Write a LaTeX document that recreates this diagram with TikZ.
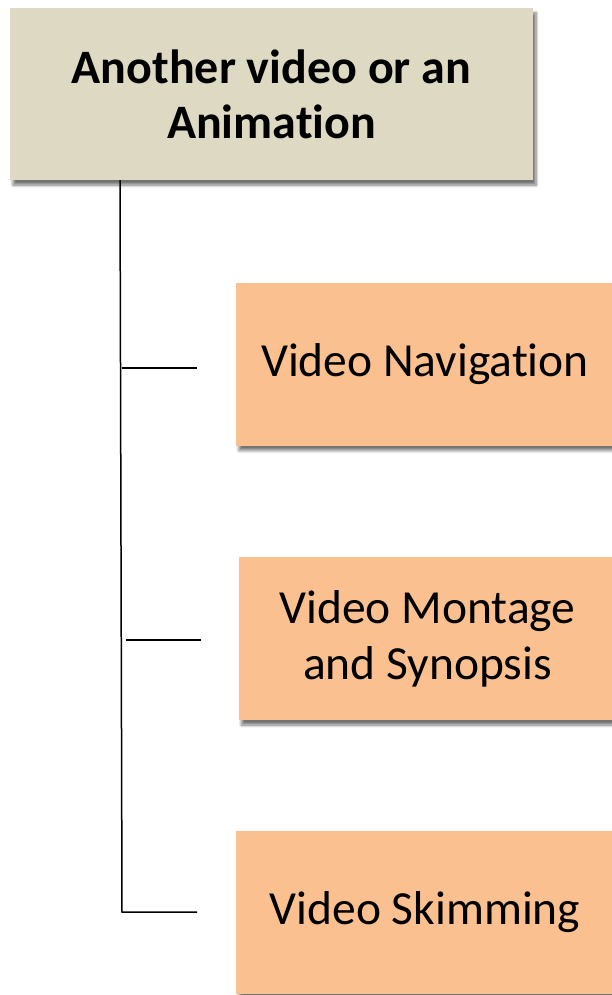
\documentclass[tikz,border=0pt]{standalone}
\usepackage{fontspec}
\setmainfont{Carlito}
\usetikzlibrary{shadows.blur}
\definecolor{headfill}{HTML}{DDD9C3}
\definecolor{itemfill}{HTML}{FAC090}
% break the t-i ligature of the font
\newcommand{\tisplit}{t\kern0pt i}
\tikzset{
  x=1pt, y=-1pt,
  boxshadow/.style={blur shadow={shadow xshift=3pt, shadow yshift=-5pt,
      shadow blur steps=6, shadow blur radius=3pt, shadow opacity=55}},
  headbox/.style={rectangle, fill=headfill, boxshadow, align=center,
      minimum width=523pt, minimum height=172pt, inner sep=0pt,
      font=\fontsize{48}{55}\selectfont\bfseries},
  itembox/.style={rectangle, fill=itemfill, boxshadow, align=center,
      minimum width=378pt, minimum height=163pt, inner sep=0pt,
      font=\fontsize{47.5}{56}\selectfont},
  link/.style={draw=black, line width=1.5pt}
}
\begin{document}
\begin{tikzpicture}
  \useasboundingbox (0,0) rectangle (612,995);
  \node[headbox] (head) at (271.5,94) {Another video or an\\Anima\tisplit on};
  \node[itembox] (nav)  at (425,364)   {Video Naviga\tisplit on};
  \node[itembox] (mont) at (427.5,638.5) {Video Montage\\and Synopsis};
  \node[itembox] (skim) at (425,912)   {Video Skimming};

  % tree stem and branch stubs
  \coordinate (stemtop) at (head.south -| 120,0);
  \coordinate (corner) at (122,912);
  \coordinate (b1a) at (122,368);  \coordinate (b1b) at (197,368);
  \coordinate (b2a) at (126,640);  \coordinate (b2b) at (201,640);
  \coordinate (b3b) at (197,912);
  \draw[link] (stemtop) -- (corner) -- (b3b);
  \draw[link] (b1a) -- (b1b);
  \draw[link] (b2a) -- (b2b);
\end{tikzpicture}
\end{document}
